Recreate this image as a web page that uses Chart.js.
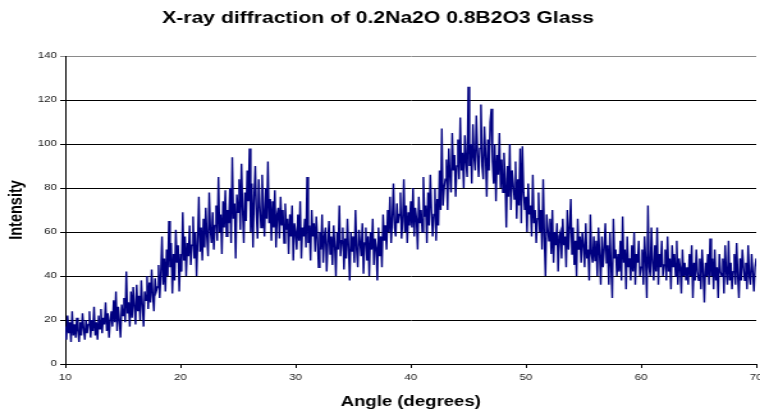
<!DOCTYPE html>
<html>
<head>
<meta charset="utf-8">
<script src="https://cdn.jsdelivr.net/npm/chart.js@4.4.0/dist/chart.umd.min.js"></script>
<style>
  html, body { margin: 0; padding: 0; background: #fff; overflow: hidden; }
  /* the chart is laid out narrower and stretched sideways, like the wide Excel export */
  #wrap {
    width: 594px;
    height: 411px;
    transform: scaleX(1.2795);
    transform-origin: 0 0;
  }
</style>
</head>
<body>
<div id="wrap"><canvas id="xrd"></canvas></div>
<script>
// scan settings: 2-theta from 10 to 70 degrees, one reading every 0.1 degree
const angleStart = 10;
const angleStep = 0.1;

// intensity counts, one row per degree
const intensity = [
  17,11,22,14,19,10,24,13,18,12,
  21,15,10,19,13,23,16,11,20,14,
  18,24,12,20,15,26,13,19,11,22,
  16,25,14,21,18,28,15,23,12,20,
  24,17,29,19,33,15,26,20,12,27,
  22,30,19,42,23,28,17,33,21,35,
  26,18,36,24,31,20,38,27,17,33,
  29,40,25,37,28,43,31,24,39,33,
  35,45,30,41,58,36,48,33,52,40,
  65,44,55,32,50,38,61,46,54,33,
  50,42,69,47,58,40,55,49,63,45,
  54,67,48,60,40,56,76,51,62,47,
  66,53,71,58,49,78,61,55,69,52,
  63,72,56,85,60,68,50,74,62,79,
  58,70,64,80,55,94,66,73,48,77,
  69,84,61,91,70,55,78,65,88,74,
  98,60,82,53,76,90,68,57,84,72,
  62,86,70,58,80,66,92,64,75,56,
  74,62,79,53,68,71,57,76,63,70,
  55,73,61,66,50,68,58,72,47,64,
  60,52,68,56,74,48,62,58,66,53,
  85,55,63,47,70,58,64,51,67,57,
  44,60,52,68,46,58,62,42,55,65,
  50,58,45,63,54,40,60,52,72,49,
  56,62,43,57,48,66,53,38,60,51,
  58,46,70,52,44,61,55,49,64,41,
  55,62,47,58,40,60,52,66,45,57,
  53,38,62,49,58,44,68,56,63,52,
  70,60,76,55,66,82,62,58,73,64,
  68,78,57,65,84,60,72,55,69,63,
  74,62,80,58,71,66,52,76,64,70,
  60,85,67,72,55,78,63,86,70,58,
  68,80,56,75,63,88,70,107,72,80,
  84,93,70,98,86,78,105,88,95,76,
  90,102,84,112,88,96,80,104,92,85,
  126,90,100,82,109,94,88,113,96,85,
  98,118,90,84,108,95,76,102,88,110,
  116,92,82,100,74,95,86,105,80,93,
  78,96,84,62,90,76,100,70,88,82,
  75,92,66,84,72,98,64,99,78,70,
  76,60,82,68,72,58,86,64,70,55,
  66,78,60,70,52,84,58,40,68,62,
  56,66,50,70,46,60,54,64,42,58,
  60,48,66,54,58,44,70,52,62,75,
  50,62,45,56,40,66,52,58,46,60,
  54,44,64,48,52,38,68,50,46,58,
  47,56,40,62,50,36,58,44,52,64,
  46,54,36,60,44,30,66,48,52,40,
  50,42,56,38,67,46,52,34,58,44,
  48,38,54,42,60,36,50,46,56,40,
  44,52,36,58,47,30,72,44,40,62,
  46,38,54,42,62,36,50,44,56,40,
  45,52,38,58,42,48,34,54,44,50,
  40,56,36,48,44,32,52,40,46,38,
  44,36,50,40,54,30,46,38,52,42,
  38,48,34,52,42,28,46,40,50,36,
  57,40,48,34,52,38,44,30,50,42,
  40,48,32,54,42,36,56,38,46,34,
  42,50,36,55,40,30,48,38,52,44,
  38,46,34,54,40,36,50,42,33,44,
  48
];

const xTicks = [10, 20, 30, 40, 50, 60, 70];
const yTicks = [0, 20, 40, 60, 80, 100, 120, 140];

const points = intensity.map((v, i) => ({
  x: +(angleStart + i * angleStep).toFixed(1),
  y: v
}));

const font = 'Arial, "Liberation Sans", Helvetica, sans-serif';

new Chart(document.getElementById('xrd'), {
  type: 'line',
  data: {
    datasets: [{
      data: points,
      borderColor: '#000080',
      borderWidth: 1.4,
      pointRadius: 0,
      tension: 0,
      fill: false
    }]
  },
  options: {
    responsive: true,
    maintainAspectRatio: false,
    animation: false,
    events: [],
    layout: { padding: { left: 0, right: 3, top: 0, bottom: 0 } },
    plugins: {
      legend: { display: false },
      tooltip: { enabled: false },
      title: {
        display: true,
        text: 'X-ray diffraction of 0.2Na2O 0.8B2O3 Glass',
        color: '#000',
        font: { family: font, size: 16.5, weight: 'bold', lineHeight: 1.2 },
        padding: { top: 9, bottom: 27.2 }
      }
    },
    scales: {
      x: {
        type: 'linear',
        min: 10,
        max: 70,
        afterBuildTicks: s => { s.ticks = xTicks.map(v => ({ value: v })); },
        afterFit: s => { s.height = 47; s.paddingLeft = 0; s.paddingRight = 0; },
        ticks: {
          color: '#222',
          font: { family: font, size: 9 },
          padding: 4,
          maxRotation: 0
        },
        grid: {
          drawOnChartArea: false,
          drawTicks: true,
          tickLength: 4,
          color: '#000'
        },
        border: { color: '#000', width: 1 },
        title: {
          display: true,
          text: 'Angle (degrees)',
          color: '#000',
          font: { family: font, size: 14.5, weight: 'bold' },
          padding: { top: 2, bottom: 0 }
        }
      },
      y: {
        min: 0,
        max: 140,
        afterBuildTicks: s => { s.ticks = yTicks.map(v => ({ value: v })); },
        afterFit: s => { s.width = 51; },
        ticks: {
          color: '#222',
          font: { family: font, size: 9 },
          padding: 2.5
        },
        grid: {
          drawTicks: true,
          tickLength: 4,
          color: c => (c.tick && c.tick.value === 140) ? '#8a8a8a' : '#000',
          lineWidth: 1
        },
        border: { color: '#000', width: 1 },
        title: {
          display: true,
          text: 'Intensity',
          color: '#000',
          font: { family: font, size: 14.5, weight: 'bold' },
          padding: { top: 4, bottom: 0 }
        }
      }
    }
  }
});
</script>
</body>
</html>
